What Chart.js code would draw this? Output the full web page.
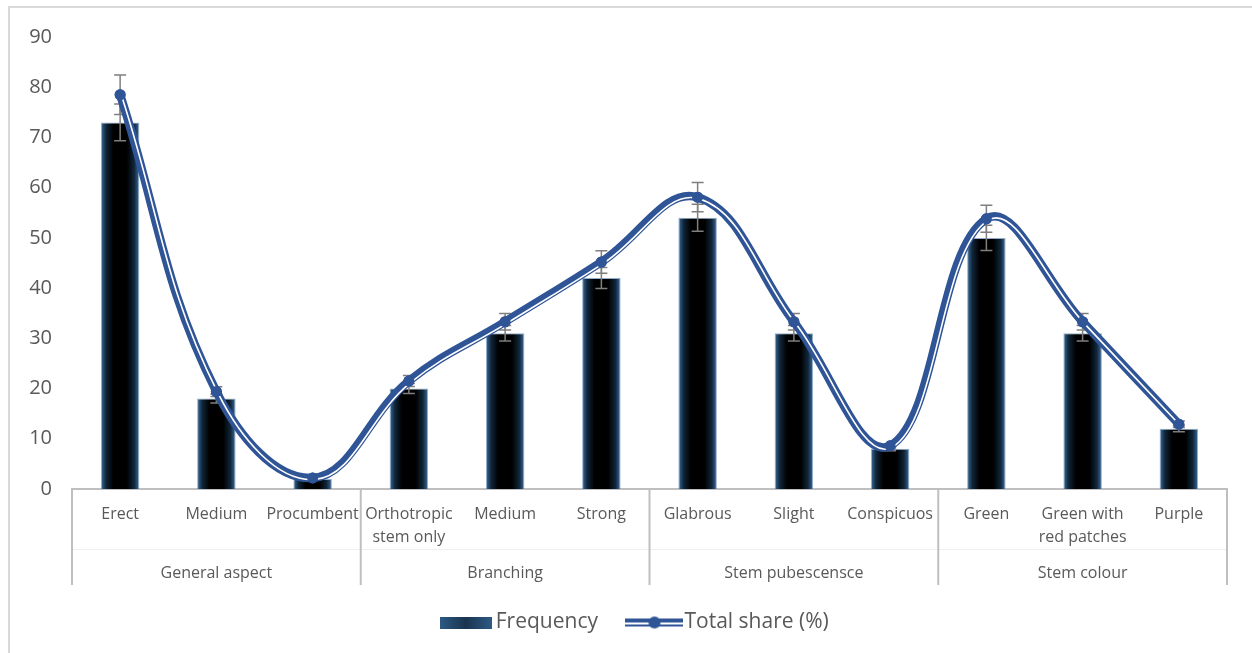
<!DOCTYPE html>
<html>
<head>
<meta charset="utf-8">
<script src="https://cdn.jsdelivr.net/npm/chart.js@4.4.1/dist/chart.umd.min.js"></script>
<style>
    html, body { margin: 0; padding: 0; background: #fff; }
    #wrap { position: relative; width: 1252px; height: 653px; }
    #frame { position: absolute; left: 8px; top: 6px; width: 1260px; height: 660px;
             border-left: 2px solid #d9d9d9; border-top: 2px solid #d9d9d9; }
    canvas { position: absolute; left: 0; top: 0; }
</style>
</head>
<body>
<div id="wrap">
    <div id="frame"></div>
    <canvas id="chart" width="1252" height="653"></canvas>
</div>
<script>
// chart data
const categories = ['Erect', 'Medium', 'Procumbent', ['Orthotropic', 'stem only'], 'Medium', 'Strong',
    'Glabrous', 'Slight', 'Conspicuos', 'Green', ['Green with', 'red patches'], 'Purple'];
const groups = ['General aspect', 'Branching', 'Stem pubescensce', 'Stem colour'];
const groupSizes = [3, 3, 3, 3];
const frequency = [73, 18, 2, 20, 31, 42, 54, 31, 8, 50, 31, 12];
const totalShare = [78.5, 19.4, 2.2, 21.5, 33.3, 45.2, 58.1, 33.3, 8.6, 53.8, 33.3, 12.9];
const yMax = 90;
const yStep = 10;
const errorPct = 5; // percentage error bars, as set in the sheet

const textColor = '#595959';
const lineBlue = '#2f5597';
const font = '"Open Sans", sans-serif';

// bar fill: black core with a blue glow on the sides
function barFill(c) {
    const chart = c.chart;
    if (!chart.chartArea || !chart.scales.x) return '#000';
    const el = chart.getDatasetMeta(0).data[c.dataIndex];
    const cx = chart.scales.x.getPixelForValue(c.dataIndex);
    const half = el && el.width ? el.width / 2 : 19;
    const g = chart.ctx.createLinearGradient(cx - half, 0, cx + half, 0);
    g.addColorStop(0, '#3a6a99');
    g.addColorStop(0.13, '#10263a');
    g.addColorStop(0.32, '#000');
    g.addColorStop(0.68, '#000');
    g.addColorStop(0.87, '#10263a');
    g.addColorStop(1, '#3a6a99');
    return g;
}

// legend icons
function freqIcon() {
    const cv = document.createElement('canvas');
    cv.width = 52; cv.height = 12;
    const c = cv.getContext('2d');
    const g = c.createLinearGradient(0, 0, 52, 0);
    g.addColorStop(0, '#2d5a84');
    g.addColorStop(0.5, '#1b3550');
    g.addColorStop(1, '#2d5a84');
    c.fillStyle = g;
    c.fillRect(0, 0, 52, 12);
    return cv;
}
function lineIcon() {
    const cv = document.createElement('canvas');
    cv.width = 58; cv.height = 14;
    const c = cv.getContext('2d');
    c.fillStyle = lineBlue;
    c.fillRect(0, 3, 58, 4);
    c.fillRect(0, 9, 58, 2);
    c.beginPath();
    c.arc(29, 7, 6, 0, Math.PI * 2);
    c.fill();
    return cv;
}

// error bars for both series, drawn after the bars and under the line
const errorBars = {
    id: 'errorBars',
    afterDatasetDraw(chart, args) {
        if (args.index !== 0) return;
        const ctx = chart.ctx;
        const y = chart.scales.y;
        ctx.save();
        ctx.strokeStyle = '#7f7f7f';
        ctx.lineWidth = 1.5;
        [frequency, totalShare].forEach((vals, di) => {
            const meta = chart.getDatasetMeta(di);
            vals.forEach((v, i) => {
                const x = meta.data[i].x;
                const e = v * errorPct / 100;
                const top = y.getPixelForValue(v + e);
                const bot = y.getPixelForValue(v - e);
                ctx.beginPath();
                ctx.moveTo(x, top); ctx.lineTo(x, bot);
                ctx.moveTo(x - 6, top); ctx.lineTo(x + 6, top);
                ctx.moveTo(x - 6, bot); ctx.lineTo(x + 6, bot);
                ctx.stroke();
            });
        });
        ctx.restore();
    }
};

// white gap inside the share line, so it reads as thick + thin
const doubleLine = {
    id: 'doubleLine',
    afterDatasetDraw(chart, args) {
        if (args.index !== 1) return;
        const ctx = chart.ctx;
        const meta = args.meta;
        const line = meta.dataset;
        const orig = line.options;
        line.options = Object.assign({}, orig, { borderColor: '#ffffff', borderWidth: 1.6 });
        ctx.save();
        ctx.translate(1.6, 1.6);
        line.draw(ctx, chart.chartArea);
        ctx.restore();
        line.options = orig;
        meta.data.forEach(p => p.draw(ctx, chart.chartArea));
    }
};

// second level of the category axis
const groupAxis = {
    id: 'groupAxis',
    afterLayout(chart) {
        // centre the legend under the plot like the sheet does
        chart.legend.left += 48;
    },
    afterDraw(chart) {
        const ctx = chart.ctx;
        const x = chart.scales.x;
        const area = chart.chartArea;
        const top = x.top;
        const bottom = top + 96;
        const edges = [area.left];
        let n = 0;
        groupSizes.forEach((s, gi) => {
            n += s;
            if (gi < groupSizes.length - 1) {
                edges.push((x.getPixelForValue(n - 1) + x.getPixelForValue(n)) / 2);
            }
        });
        edges.push(area.right);
        ctx.save();
        ctx.strokeStyle = '#efefef';
        ctx.lineWidth = 1;
        ctx.beginPath();
        ctx.moveTo(area.left, top + 60.5); ctx.lineTo(area.right, top + 60.5);
        ctx.stroke();
        ctx.strokeStyle = '#bfbfbf';
        ctx.lineWidth = 2;
        edges.forEach(ex => {
            ctx.beginPath();
            ctx.moveTo(ex, top); ctx.lineTo(ex, bottom);
            ctx.stroke();
        });
        ctx.fillStyle = textColor;
        ctx.font = '16px ' + font;
        ctx.textAlign = 'center';
        ctx.textBaseline = 'middle';
        groups.forEach((g, i) => {
            ctx.fillText(g, (edges[i] + edges[i + 1]) / 2, top + 84);
        });
        ctx.restore();
    }
};

new Chart(document.getElementById('chart'), {
    data: {
        labels: categories,
        datasets: [
            {
                type: 'bar',
                label: 'Frequency',
                data: frequency,
                backgroundColor: barFill,
                borderColor: 'rgba(70,120,170,0.6)',
                borderWidth: 1,
                barPercentage: 0.4,
                categoryPercentage: 1,
                order: 2
            },
            {
                type: 'line',
                label: 'Total share (%)',
                data: totalShare,
                borderColor: lineBlue,
                borderWidth: 8.5,
                tension: 0.4,
                pointRadius: 5.5,
                pointBackgroundColor: lineBlue,
                pointBorderWidth: 0,
                fill: false,
                order: 1
            }
        ]
    },
    options: {
        responsive: false,
        animation: false,
        layout: { padding: { left: 0, right: 25, top: 37, bottom: 10 } },
        scales: {
            x: {
                grid: { display: false },
                border: { display: true, color: '#bfbfbf', width: 2 },
                ticks: {
                    color: textColor,
                    font: { family: font, size: 16, lineHeight: 1.45 },
                    autoSkip: false,
                    maxRotation: 0,
                    padding: 6
                },
                afterFit(s) { s.height = 86; }
            },
            y: {
                min: 0,
                max: yMax,
                grid: { display: false, drawTicks: false },
                border: { display: false },
                ticks: {
                    stepSize: yStep,
                    color: textColor,
                    font: { family: font, size: 20 },
                    padding: 20
                },
                afterFit(s) { s.width = 72; }
            }
        },
        plugins: {
            tooltip: { enabled: false },
            legend: {
                position: 'bottom',
                labels: {
                    color: textColor,
                    font: { family: font, size: 21 },
                    usePointStyle: true,
                    pointStyleWidth: 39,
                    padding: 37,
                    generateLabels() {
                        return [
                            { text: 'Frequency', pointStyle: freqIcon(), fontColor: textColor, datasetIndex: 0, lineWidth: 0 },
                            { text: 'Total share (%)', pointStyle: lineIcon(), fontColor: textColor, datasetIndex: 1, lineWidth: 0 }
                        ];
                    }
                }
            }
        }
    },
    plugins: [errorBars, doubleLine, groupAxis]
});
</script>
</body>
</html>
